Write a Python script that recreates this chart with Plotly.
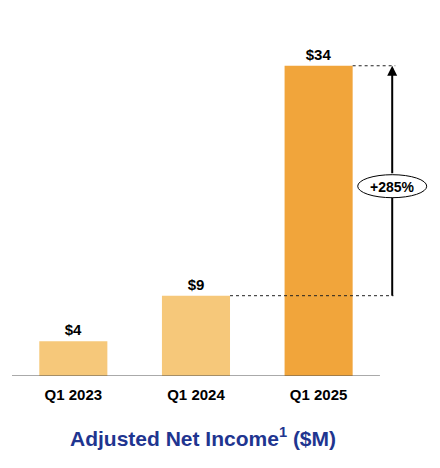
import plotly.graph_objects as go

# chart data
quarters = ["Q1 2023", "Q1 2024", "Q1 2025"]
net_income = [3.8, 8.8, 34.0]
value_labels = ["$4", "$9", "$34"]
bar_colors = ["#F6C87A", "#F6C87A", "#F1A53B"]
growth_label = "+285%"
title_text = "Adjusted Net Income<sup>1</sup> ($M)"

FONT = "Arial, Liberation Sans, sans-serif"
BAR_W = 0.555
ARROW_X = 2.6          # category-axis position of the growth arrow
LABEL_Y = 20.8          # where the growth bubble sits

fig = go.Figure(
    go.Bar(
        x=quarters,
        y=net_income,
        width=BAR_W,
        marker=dict(color=bar_colors, line=dict(width=0)),
        text=value_labels,
        textposition="outside",
        textfont=dict(family=FONT, size=15, color="#000000", weight="bold"),
        cliponaxis=False,
        hoverinfo="skip",
    )
)

shapes = [
    # baseline
    dict(type="line", xref="x", yref="y", x0=-0.5, x1=2.5, y0=0, y1=0,
         line=dict(color="#555555", width=1)),
    # dotted guides at the two compared values
    dict(type="line", xref="x", yref="y", x0=2 + BAR_W / 2, x1=ARROW_X + 0.025,
         y0=net_income[2], y1=net_income[2], line=dict(color="#222222", width=1, dash="dot")),
    dict(type="line", xref="x", yref="y", x0=1 + BAR_W / 2, x1=ARROW_X + 0.01,
         y0=net_income[1], y1=net_income[1], line=dict(color="#222222", width=1, dash="dot")),
    # lower part of the arrow shaft
    dict(type="line", xref="x", yref="y", x0=ARROW_X, x1=ARROW_X,
         y0=net_income[1], y1=LABEL_Y, line=dict(color="#000000", width=2)),
    # bubble around the growth label
    dict(type="circle", xref="x", yref="y", xsizemode="pixel", ysizemode="pixel",
         xanchor=ARROW_X, yanchor=LABEL_Y, x0=-34.5, x1=34.5, y0=-11.5, y1=11.5,
         fillcolor="#FFFFFF", line=dict(color="#000000", width=1)),
]

annotations = [
    # growth label with the upper arrow
    dict(x=ARROW_X, y=net_income[2], xref="x", yref="y",
         ax=ARROW_X, ay=LABEL_Y, axref="x", ayref="y",
         text=f"<b>{growth_label}</b>", showarrow=True, height=23,
         arrowhead=2, arrowsize=1, arrowwidth=2, arrowcolor="#000000", standoff=0,
         font=dict(family=FONT, size=14, color="#000000")),
    dict(x=0.5, y=0, xref="paper", yref="paper", xshift=-18, yshift=-61,
         text=f"<b>{title_text}</b>", showarrow=False, yanchor="middle",
         font=dict(family=FONT, size=21, color="#1F3590")),
]

# page body adds 8px offset, so margins are trimmed to compensate
fig.update_layout(
    width=440,
    height=468,
    margin=dict(l=4, r=19, t=3, b=100),
    paper_bgcolor="#FFFFFF",
    plot_bgcolor="#FFFFFF",
    showlegend=False,
    shapes=shapes,
    annotations=annotations,
    xaxis=dict(
        type="category",
        range=[-0.5, 2.9],
        showline=False,
        showgrid=False,
        zeroline=False,
        ticks="",
        ticklabelstandoff=8,
        tickfont=dict(family=FONT, size=15, color="#000000", weight="bold"),
        fixedrange=True,
    ),
    yaxis=dict(visible=False, range=[0, 40], fixedrange=True),
)

fig.write_html("out.html")
